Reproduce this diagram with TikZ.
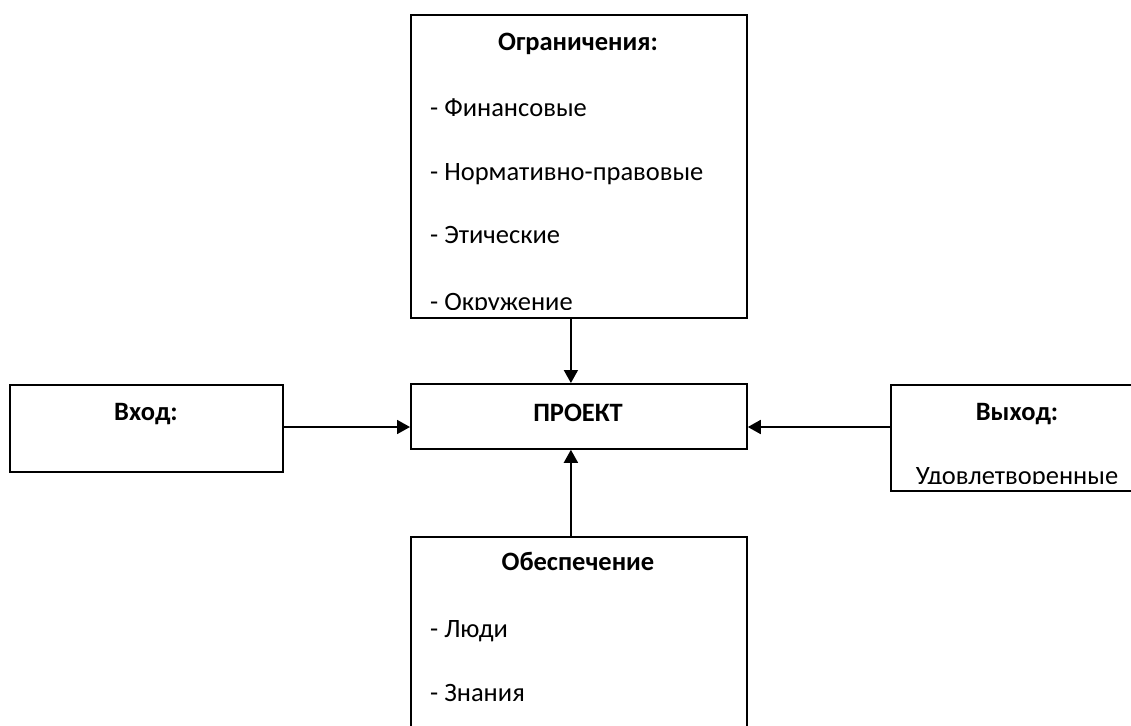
\documentclass[tikz,border=0pt]{standalone}
\usepackage{fontspec}
\setmainfont{Carlito}
\usetikzlibrary{arrows.meta,calc}
\tikzset{
  box/.style={draw=black, line width=1.8pt, anchor=north west, inner sep=0pt},
  ttl/.style={anchor=base, inner sep=0pt, font=\fontsize{26.5}{30}\selectfont\bfseries},
  itm/.style={anchor=base west, inner sep=0pt, font=\fontsize{26.5}{30}\selectfont},
  arr/.style={line width=1.8pt, -{Triangle[length=13pt,width=14pt]}},
}
\begin{document}
\begin{tikzpicture}[x=1pt,y=-1pt]
\useasboundingbox (0,0) rectangle (1131,725);
\clip (0,0) rectangle (1131,725);
% boxes
\node[box, minimum width=336pt, minimum height=303pt] (top) at (410,14) {};
\node[box, minimum width=336pt, minimum height=65pt] (proj) at (410,383) {};
\node[box, minimum width=273pt, minimum height=87pt] (in) at (9,384) {};
\node[box, minimum width=254pt, minimum height=106pt] (out) at (890,384) {};
\node[box, minimum width=336pt, minimum height=220pt] (bot) at (410,536) {};
% top box text (clipped by the box's inner margin)
\begin{scope}
\clip (top.north west) rectangle ([yshift=9pt]top.south east);
\node[ttl] (t0) at (578,50) {Ограничения:};
\node[itm] (t1) at (430,116) {- Финансовые};
\node[itm] (t2) at (430,180) {- Нормативно-правовые};
\node[itm] (t3) at (430,243) {- Этические};
\node[itm] (t4) at (430,310) {- Окружение};
\end{scope}
\node[ttl] (pt) at (578,421) {ПРОЕКТ};
\node[ttl] (it) at (146,420) {Вход:};
\begin{scope}
\clip (out.north west) rectangle ([yshift=8pt]out.south east);
\node[ttl] (ot) at (1017,420) {Выход:};
\node[anchor=base, inner sep=0pt, font=\fontsize{26.5}{30}\selectfont] (o1) at (1017,484) {Удовлетворенные};
\end{scope}
\node[ttl] (b0) at (578,570) {Обеспечение};
\node[itm] (b1) at (430,637) {- Люди};
\node[itm] (b2) at (430,701) {- Знания};
% arrows
\draw[arr] ([xshift=-8pt]top.south) -- ([xshift=-8pt]proj.north);
\draw[arr] ([xshift=-8pt]bot.north) -- ([xshift=-8pt]proj.south);
\draw[arr] (in.east |- 0,427) -- (proj.west |- 0,427);
\draw[arr] (out.west |- 0,427) -- (proj.east |- 0,427);
\end{tikzpicture}
\end{document}
